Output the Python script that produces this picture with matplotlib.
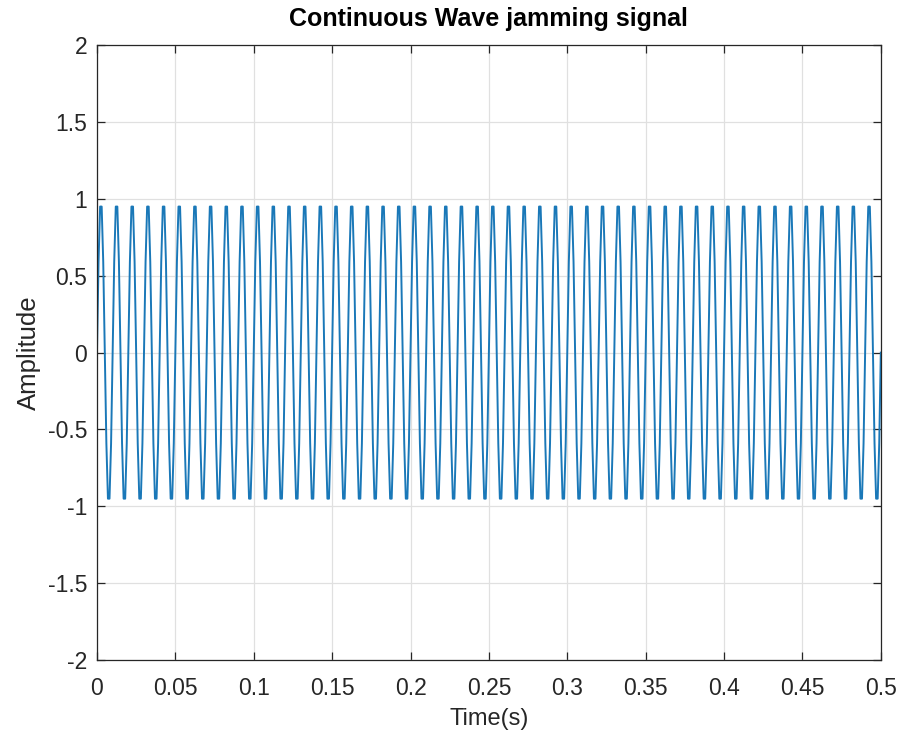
import numpy as np
import matplotlib
matplotlib.use("Agg")
import matplotlib.pyplot as plt

period_samples = [0.0, 0.59, 0.95, 0.95, 0.59, 0.0, -0.59, -0.95, -0.95, -0.59]
n_periods = 50
sample_rate = 1000.0  # Hz
x_ticks = [0, 0.05, 0.1, 0.15, 0.2, 0.25, 0.3, 0.35, 0.4, 0.45, 0.5]
x_tick_labels = ["0", "0.05", "0.1", "0.15", "0.2", "0.25", "0.3", "0.35", "0.4", "0.45", "0.5"]
y_ticks = [-2, -1.5, -1, -0.5, 0, 0.5, 1, 1.5, 2]
y_tick_labels = ["-2", "-1.5", "-1", "-0.5", "0", "0.5", "1", "1.5", "2"]

signal = np.append(np.tile(period_samples, n_periods), period_samples[0])
t = np.arange(len(signal)) / sample_rate

LINE = "#1A78B8"
AXIS = "#262626"
GRID = "#E0E0E0"

plt.rcParams["font.family"] = ["Liberation Sans", "DejaVu Sans"]

fig = plt.figure(figsize=(9.02, 7.40), dpi=100)
ax = fig.add_axes([0.1075, 0.108, 0.869, 0.831])
ax.plot(t, signal, color=LINE, linewidth=1.4)

ax.set_xlim(0, 0.5)
ax.set_ylim(-2, 2)
ax.set_xticks(x_ticks, x_tick_labels)
ax.set_yticks(y_ticks, y_tick_labels)
ax.grid(True, color=GRID, linewidth=0.9)
ax.set_axisbelow(True)
ax.tick_params(direction="in", top=True, right=True, length=6, width=0.9,
               colors=AXIS, labelsize=16.5, pad=7)
ax.tick_params(axis="x", pad=12)
for spine in ax.spines.values():
    spine.set_color(AXIS)
    spine.set_linewidth(0.9)

ax.set_xlabel("Time(s)", fontsize=17, color=AXIS, labelpad=6)
ax.set_ylabel("Amplitude", fontsize=18.5, color=AXIS, labelpad=5)
ax.set_title("Continuous Wave jamming signal", fontsize=18, fontweight="bold",
             color="#000000", pad=14)

fig.savefig("out.png", dpi=100, facecolor="white")
